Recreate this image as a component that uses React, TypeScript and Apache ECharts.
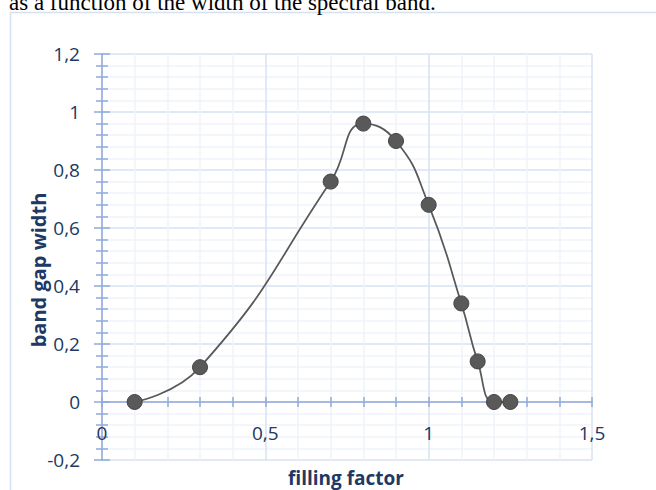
import React, { useEffect, useRef } from "react";
import * as echarts from "echarts";

const fillingFactor = [0.1, 0.3, 0.7, 0.8, 0.9, 1.0, 1.1, 1.15, 1.2, 1.25];
const bandGapWidth = [0, 0.12, 0.76, 0.96, 0.9, 0.68, 0.34, 0.14, 0, 0];

const xMin = 0;
const xMax = 1.5;
const xStep = 0.5;
const yMin = -0.2;
const yMax = 1.2;
const yStep = 0.2;

const titleText = "as a function of the width of the spectral band.";
const xName = "filling factor";
const yName = "band gap width";

const AXIS = "#8FAADC";
const MAJOR = "#D9E2F3";
const MINOR = "#EFF3FA";
const LABEL = "#203864";
const FONT = "'Open Sans', sans-serif";

const GRID_LEFT = 102;
const GRID_TOP = 54;
const GRID_W = 490;
const GRID_H = 406;
// pixel distance from the grid bottom up to y = 0
const ZERO_FROM_BOTTOM = (GRID_H * (0 - yMin)) / (yMax - yMin);

const fmt = (v: number) => String(Math.round(v * 100) / 100).replace(".", ",");

export default function App() {
  const ref = useRef<HTMLDivElement>(null);
  useEffect(() => {
    if (!ref.current) return;
    const chart = echarts.init(ref.current, undefined, { renderer: "svg" });
    const baseX = { type: "value" as const, min: xMin, max: xMax, interval: xStep };
    const baseY = { type: "value" as const, min: yMin, max: yMax, interval: yStep };
    const tickStyle = { color: AXIS, width: 1.5 };
    chart.setOption({
      animation: false,
      grid: { left: GRID_LEFT, top: GRID_TOP, width: GRID_W, height: GRID_H },
      xAxis: [
        {
          ...baseX,
          position: "bottom",
          offset: -ZERO_FROM_BOTTOM,
          axisLine: { show: true, onZero: false, lineStyle: { color: AXIS, width: 1.5 } },
          axisTick: { show: true, inside: false, length: 5, lineStyle: tickStyle },
          minorTick: { show: true, splitNumber: 5, length: 5, lineStyle: tickStyle },
          axisLabel: { show: true, margin: 21, color: LABEL, fontSize: 19, fontFamily: FONT, formatter: fmt },
          splitLine: { show: true, lineStyle: { color: MAJOR, width: 1.5 } },
          minorSplitLine: { show: true, lineStyle: { color: MINOR, width: 1.5 } },
        },
        {
          ...baseX,
          position: "top",
          offset: -(GRID_H - ZERO_FROM_BOTTOM),
          axisLine: { show: false, onZero: false },
          axisTick: { show: true, inside: false, length: 5, lineStyle: tickStyle },
          minorTick: { show: true, splitNumber: 5, length: 5, lineStyle: tickStyle },
          axisLabel: { show: false },
          splitLine: { show: false },
          minorSplitLine: { show: false },
        },
      ],
      yAxis: [
        {
          ...baseY,
          position: "left",
          axisLine: { show: true, onZero: false, lineStyle: { color: AXIS, width: 1.5 } },
          axisTick: { show: true, inside: false, length: 8, lineStyle: tickStyle },
          minorTick: { show: true, splitNumber: 5, length: 6, lineStyle: tickStyle },
          axisLabel: { show: true, margin: 22, color: LABEL, fontSize: 19, fontFamily: FONT, formatter: fmt },
          splitLine: { show: true, lineStyle: { color: MAJOR, width: 1.5 } },
          minorSplitLine: { show: true, lineStyle: { color: MINOR, width: 1.5 } },
        },
        {
          ...baseY,
          position: "right",
          offset: -GRID_W,
          axisLine: { show: false, onZero: false },
          axisTick: { show: true, inside: false, length: 8, lineStyle: tickStyle },
          minorTick: { show: true, splitNumber: 5, length: 6, lineStyle: tickStyle },
          axisLabel: { show: false },
          splitLine: { show: false },
          minorSplitLine: { show: false },
        },
      ],
      series: [
        {
          type: "line",
          xAxisIndex: 0,
          yAxisIndex: 0,
          data: fillingFactor.map((x, i) => [x, bandGapWidth[i]]),
          smooth: 0.5,
          symbol: "circle",
          symbolSize: 15,
          showSymbol: true,
          lineStyle: { color: "#595959", width: 1.75 },
          itemStyle: { color: "#595959", borderColor: "#444444", borderWidth: 1 },
          z: 5,
        },
      ],
      graphic: [
        {
          type: "rect",
          silent: true,
          shape: { x: 10.5, y: 12.5, width: 700, height: 600 },
          style: { fill: "none", stroke: "#D5E0F2", lineWidth: 1.5 },
          z: -10,
        },
        {
          type: "text",
          x: 9,
          y: 2,
          style: {
            text: titleText,
            fontFamily: "'Liberation Serif', serif",
            fontSize: 23,
            fill: "#000000",
            align: "left",
            verticalAlign: "middle",
          },
        },
        {
          type: "text",
          x: 38,
          y: 270,
          rotation: Math.PI / 2,
          style: {
            text: yName,
            fontFamily: FONT,
            fontWeight: "bold",
            fontSize: 20,
            fill: LABEL,
            align: "center",
            verticalAlign: "middle",
          },
        },
        {
          type: "text",
          x: 346,
          y: 478,
          style: {
            text: xName,
            fontFamily: FONT,
            fontWeight: "bold",
            fontSize: 19,
            fill: LABEL,
            align: "center",
            verticalAlign: "middle",
          },
        },
      ],
    });
    return () => chart.dispose();
  }, []);
  return (
    <div
      ref={ref}
      style={{ position: "fixed", left: 0, top: 0, width: 656, height: 490, background: "#ffffff" }}
    />
  );
}
